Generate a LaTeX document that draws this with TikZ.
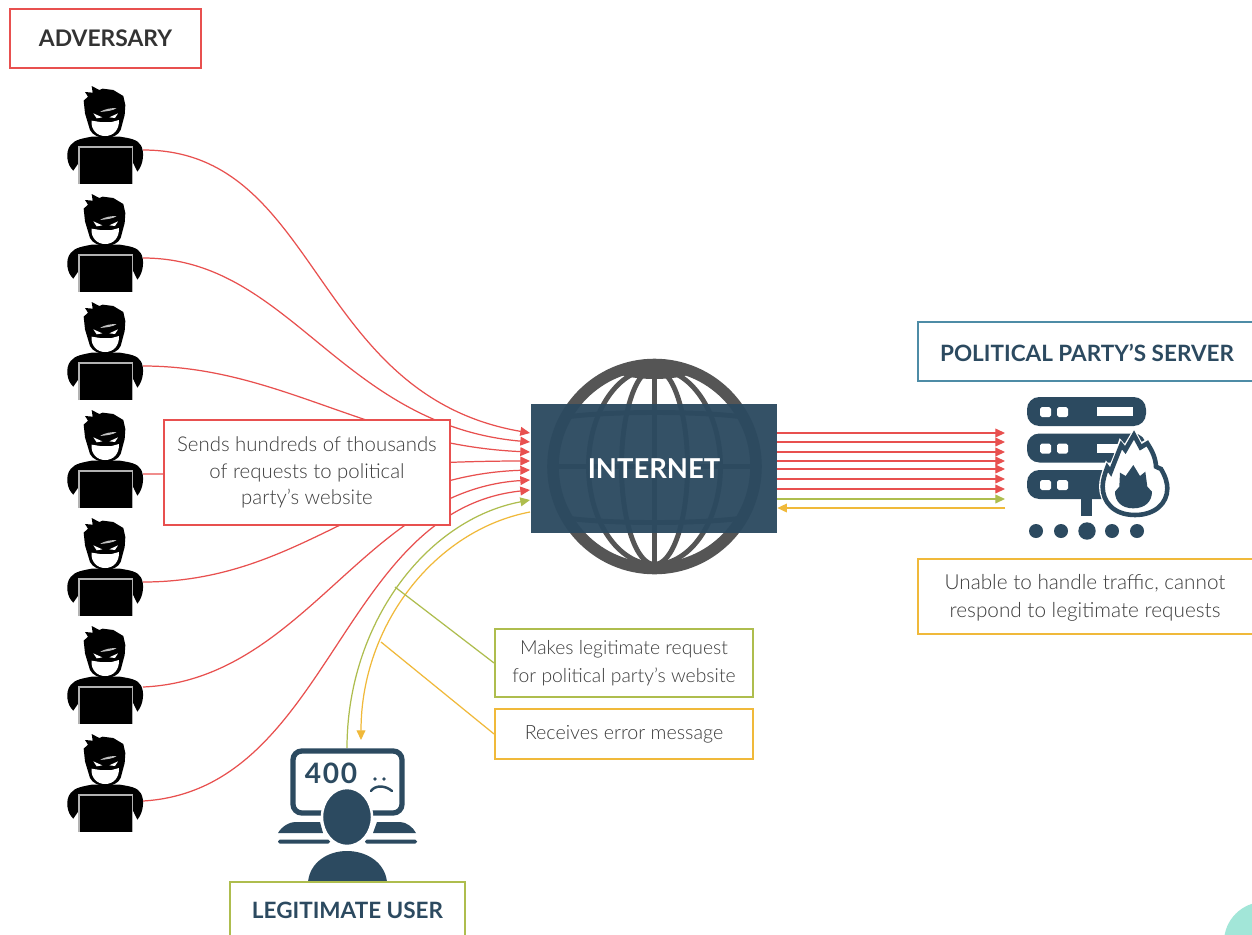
\documentclass[tikz,border=0pt]{standalone}
\usepackage{fontspec}
\setmainfont{Lato}
\newfontfamily\litefont{Lato Light}
\usetikzlibrary{arrows.meta}
\definecolor{navy}{HTML}{2C4A60}
\definecolor{redl}{HTML}{E8504F}
\definecolor{oliv}{HTML}{AEBD4E}
\definecolor{yell}{HTML}{F0B93A}
\definecolor{blueb}{HTML}{4D8CA6}
\definecolor{bodyt}{HTML}{3C3C3C}
\definecolor{globe}{HTML}{555555}
\definecolor{mint}{HTML}{A2E6D8}
\tikzset{
  x=0.02cm,y=-0.02cm,
  tipr/.style={-{Triangle[length=5.5pt,width=5pt]}},
  redline/.style={draw=redl,line width=0.7pt},
  oliveline/.style={draw=oliv,line width=0.7pt},
  yellline/.style={draw=yell,line width=0.7pt},
  bx/.style={draw,line width=1.1pt,fill=white,inner sep=0pt,align=center,text=bodyt},
  title/.style={font=\bfseries\fontsize{12.8}{15}\selectfont,inner sep=0pt},
  hacker/.pic={
    \fill[black] (70,272) .. controls (50,255) and (45,215) .. (62,195) .. controls (75,178) and (100,175) .. (125,170) -- (210,170) .. controls (240,175) and (262,178) .. (272,195) .. controls (285,215) and (280,255) .. (262,275) -- (250,250) -- (85,250) -- cycle;
    \fill[black] (105,100) -- (101,62) -- (114,50) -- (105,36) -- (128,38) -- (125,18) -- (148,30) -- (158,26) -- (190,30) -- (220,48) -- (226,75) -- (224,105) -- (212,150) .. controls (198,182) and (136,182) .. (120,150) -- cycle;
    \fill[white] (125,122) -- (150,126) -- (185,126) -- (207,120) .. controls (208,150) and (190,168) .. (165,168) .. controls (142,168) and (122,150) .. (125,122) -- cycle;
    \fill[white] (130,100) -- (157,112) -- (140,115) -- cycle;
    \fill[white] (204,100) -- (178,112) -- (195,114) -- cycle;
    \fill[white!75!black] (150,96) .. controls (165,86) and (185,84) .. (200,84) .. controls (190,92) and (170,94) .. (150,96) -- cycle;
    \fill[black] (87,201) rectangle (248,312);
    \draw[white!70!black,line width=0.7pt] (87,312) -- (87,201) -- (248,201) -- (248,312);
  }
}
\begin{document}
\begin{tikzpicture}
\useasboundingbox (0,0) rectangle (1252,934);
\clip (0,0) rectangle (1252,934);
\fill[white] (0,0) rectangle (1252,934);
\fill[mint] (1264,942) circle (40);

% adversaries
\foreach \k in {0,...,6}{
  \pic[scale=1/3] at ({50},{80+108*\k}) {hacker};
}
% anchors
\coordinate (a1) at (143,150); \coordinate (a2) at (143,258); \coordinate (a3) at (143,366);
\coordinate (a4) at (143,474); \coordinate (a5) at (143,582); \coordinate (a6) at (143,687); \coordinate (a7) at (143,801);
\coordinate (i1) at (530,433); \coordinate (i2) at (530,442); \coordinate (i3) at (530,452);
\coordinate (i4) at (530,461); \coordinate (i5) at (530,470); \coordinate (i6) at (530,480);
\coordinate (i7) at (530,490); \coordinate (i8) at (530,500); \coordinate (i9) at (530,512);
\draw[redline,tipr] (a1) .. controls (320,150) and (310,395) .. (i1);
\draw[redline,tipr] (a2) .. controls (290,258) and (340,425) .. (i2);
\draw[redline,tipr] (a3) .. controls (280,366) and (370,445) .. (i3);
\draw[redline,tipr] (a4) .. controls (300,474) and (400,461) .. (i4);
\draw[redline,tipr] (a5) .. controls (300,582) and (370,475) .. (i5);
\draw[redline,tipr] (a6) .. controls (305,680) and (365,490) .. (i6);
\draw[redline,tipr] (a7) .. controls (330,790) and (340,510) .. (i7);

\node[bx,draw=redl,minimum width=5.72cm,minimum height=2.1cm,font=\litefont\fontsize{11.6}{15}\selectfont] (sends) at (307,472.5)
  {Sends hundreds of thousands\\of requests to political\\party’s website};
\node[bx,draw=redl,text=black!80,minimum width=3.82cm,minimum height=1.18cm,font=\bfseries\fontsize{13}{15}\selectfont] (adv) at (105.5,38.5) {ADVERSARY};

% legitimate user connectors
\coordinate (u1) at (347,748); \coordinate (u2) at (361,740);
\draw[oliveline,tipr] (u1) .. controls (347,625) and (425,520) .. (i8);
\draw[yellline,tipr] (i9) .. controls (435,530) and (361,625) .. (u2);
\node[bx,draw=oliv,minimum width=5.16cm,minimum height=1.36cm,font=\litefont\fontsize{11}{15.9}\selectfont] (makes) at (624,663)
  {Makes legitimate request\\for political party’s website};
\node[bx,draw=yell,minimum width=5.16cm,minimum height=1cm,font=\litefont\fontsize{11.2}{15}\selectfont] (recv) at (624,734) {Receives error message};
\coordinate (g1) at (395,587); \coordinate (y1) at (381,642);
\draw[oliveline] (g1) -- (makes.west);
\draw[yellline] (y1) -- (recv.west);

% globe
\begin{scope}[globe]
  \draw[line width=6.6pt] (654.5,466.5) ellipse (101.5 and 102);
  \draw[line width=2.8pt] (654.5,366) -- (654.5,567);
  \draw[line width=2.8pt] (654.5,466.5) ellipse (33 and 98);
  \draw[line width=2.8pt] (654.5,466.5) ellipse (66 and 98);
  \draw[line width=2.8pt] (553,466.5) -- (756,466.5);
  \fill (615,373) .. controls (635,381) and (674,381) .. (694,373) -- (654,366) -- cycle;
  \draw[line width=2.8pt] (566,417) .. controls (610,411) and (699,411) .. (743,417);
  \draw[line width=2.8pt] (566,518) .. controls (610,524) and (699,524) .. (743,518);
\end{scope}
\node[fill=navy,fill opacity=0.96,text opacity=1,text=white,inner sep=0pt,minimum width=4.92cm,minimum height=2.58cm,font=\bfseries\fontsize{15.6}{18}\selectfont] (inet) at (654,468.5) {INTERNET};

% server side
\foreach \y/\n in {433/1,442/2,452/3,461/4,469/5,479/6,489/7}{
  \coordinate (sv\n) at (1005,\y);
  \coordinate (io\n) at (inet.east |- sv\n);
  \draw[redline,tipr] (io\n) -- (sv\n);
}
\coordinate (sv8) at (1005,499); \coordinate (io8) at (inet.east |- sv8);
\draw[oliveline,tipr] (io8) -- (sv8);
\coordinate (sv9) at (1005,508); \coordinate (io9) at (inet.east |- sv9);
\draw[yellline,tipr] (sv9) -- (io9);

\draw[blueb,line width=1.1pt] (1270,322) -- (918,322) -- (918,381) -- (1270,381);
\node[title,text=navy] (srv) at (1087,353) {POLITICAL PARTY’S SERVER};

% server icon
\begin{scope}[navy]
  \foreach \t in {397,433.5,470}{
    \fill[rounded corners=7pt] (1027,\t) rectangle (1146,\t+29);
    \fill[white,rounded corners=1pt] (1040,\t+10) rectangle (1051,\t+20);
    \fill[white,rounded corners=1pt] (1057,\t+10) rectangle (1068,\t+20);
  }
  \fill[white] (1097,407) rectangle (1133,416);
  \fill[white] (1097,443.5) rectangle (1133,453);
  \fill (1081,495) rectangle (1092,516);
  \fill (1036,531) circle (7);
  \fill (1061,531) circle (7);
  \fill (1087,531) circle (8.7);
  \fill (1112,531) circle (7);
  \fill (1137,531) circle (7);
\end{scope}
\begin{scope}[shift={(960,380)},x=0.00667cm,y=-0.00667cm]
  \path[fill=white,draw=white,line width=3pt] (525,408) .. controls (460,408) and (425,365) .. (425,320) .. controls (425,300) and (432,280) .. (440,258) -- (450,272) .. controls (460,250) and (470,225) .. (482,190) -- (495,205) -- (522,160) -- (542,197) -- (562,185) .. controls (580,215) and (590,235) .. (590,255) -- (605,262) .. controls (620,290) and (625,310) .. (625,325) .. controls (625,370) and (585,408) .. (525,408) -- cycle;
  \path[fill=white,draw=navy,line width=2.6pt] (525,405) .. controls (460,405) and (428,365) .. (428,320) .. controls (428,300) and (435,280) .. (442,262) -- (452,276) .. controls (462,250) and (472,225) .. (484,195) -- (496,210) -- (522,165) -- (542,202) -- (562,190) .. controls (578,215) and (587,235) .. (588,260) -- (603,267) .. controls (617,290) and (622,310) .. (622,325) .. controls (622,370) and (585,405) .. (525,405) -- cycle;
  \fill[navy] (520,385) .. controls (485,385) and (465,365) .. (465,335) -- (478,320) -- (480,278) -- (497,288) -- (520,255) -- (540,288) -- (556,275) -- (562,320) -- (576,335) .. controls (576,365) and (555,385) .. (520,385) -- cycle;
\end{scope}
\draw[yell,line width=1.1pt] (1270,559) -- (918,559) -- (918,634) -- (1270,634);
\node[inner sep=0pt,align=center,text=bodyt,font=\litefont\fontsize{11.8}{15.9}\selectfont] (unable) at (1085,598) {Unable to handle traffic, cannot\\respond to legitimate requests};

% user icon
\begin{scope}[navy]
  \draw[line width=3pt,rounded corners=5pt] (293,751) rectangle (402,813);
  \node[inner sep=0pt,font=\bfseries\fontsize{16}{18}\selectfont] (err) at (331,773) {4\kern1pt0\kern1pt0};
  \fill (375,779) circle (1.8);
  \fill (384,779) circle (1.8);
  \draw[line width=1.4pt,line cap=round] (371,791) .. controls (375,785) and (385,785) .. (392,791);
  \fill (278,833) .. controls (282,826) and (290,822) .. (295,822) -- (320,822) -- (323,833) -- cycle;
  \fill (373,833) -- (377,822) -- (400,822) .. controls (406,822) and (413,827) .. (416,833) -- cycle;
  \fill[rounded corners=1pt] (278,839.5) rectangle (330,843.5);
  \fill[rounded corners=1pt] (365,839.5) rectangle (417,843.5);
  \fill[draw=white,line width=1.4pt] (347,817) ellipse (25 and 29);
  \fill (308,882) .. controls (310,862) and (328,851) .. (347,851) .. controls (366,851) and (385,862) .. (387,882) -- cycle;
\end{scope}
\draw[oliv,line width=1.1pt] (230,960) -- (230,882) -- (465,882) -- (465,960);
\node[title,text=navy] (user) at (347.5,910) {LEGITIMATE USER};
\end{tikzpicture}
\end{document}
